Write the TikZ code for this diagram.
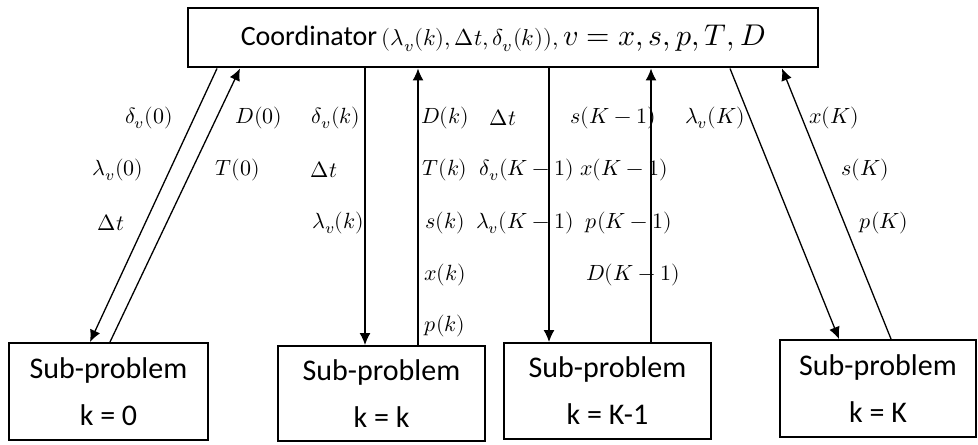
\documentclass[tikz,border=0pt]{standalone}
\usepackage{fontspec}
\usepackage{unicode-math}
\setmainfont{Carlito}
\setmathfont{Latin Modern Math}
\usetikzlibrary{arrows.meta}

\tikzset{
  subbox/.style={draw, line width=1pt, inner sep=0pt, align=center, font=\fontsize{15}{23.5}\selectfont},
  lbl/.style={inner sep=0pt, font=\fontsize{11}{13}\selectfont},
  flow/.style={->, line width=0.65pt},
}

\begin{document}
\begin{tikzpicture}[x=0.5pt, y=-0.5pt, >={Latex[length=6pt,width=5.5pt]}]
				\useasboundingbox (0,0) rectangle (978,444);
				
				% 1. 协调器方框 (顶层)
				\node[draw, line width=1pt, minimum width=315pt, minimum height=29.5pt, inner sep=0pt,
				      font=\fontsize{14}{16}\selectfont] (coord) at (503,38)
				      {Coordinator\,{\fontsize{11.5}{13}\selectfont$(\lambda_v(k),\Delta t,\delta_v(k)),$}\,{\fontsize{15}{17}\selectfont$v = x, s, p, T, D$}};
				
				% 2. 四个子问题方框 (底层)
				\node[subbox, minimum width=99.5pt, minimum height=48.5pt] (sub0) at (108.5,391.5) {Sub-problem\\k = 0};
				\node[subbox, minimum width=103.5pt, minimum height=47.5pt] (subk) at (381.5,393.5) {Sub-problem\\k = k};
				\node[subbox, minimum width=103.5pt, minimum height=48pt] (subK1) at (607.5,391) {Sub-problem\\k = K-1};
				\node[subbox, minimum width=98pt, minimum height=48.5pt] (subK) at (878,388.5) {Sub-problem\\k = K};
				
				% 3. 变量标签 (先画，连线压在上面)
				% k = 0
				\node[lbl] (dv0) at (149,118) {$\delta_v(0)$};
				\node[lbl] (lv0) at (118,170) {$\lambda_v(0)$};
				\node[lbl] (dt0) at (111,223) {$\Delta t$};
				\node[lbl] (D0) at (259,118) {$D(0)$};
				\node[lbl] (T0) at (238,170) {$T(0)$};
				% k = k
				\node[lbl] (dvk) at (336,118) {$\delta_v(k)$};
				\node[lbl] (dtk) at (324,170) {$\Delta t$};
				\node[lbl] (lvk) at (338,223) {$\lambda_v(k)$};
				\node[lbl] (Dk) at (445,118) {$D(k)$};
				\node[lbl] (Tk) at (445,170) {$T(k)$};
				\node[lbl] (sk) at (445,223) {$s(k)$};
				\node[lbl] (xk) at (445,275) {$x(k)$};
				\node[lbl] (pk) at (445,326) {$p(k)$};
				% k = K-1
				\node[lbl] (dtK1) at (503,118) {$\Delta t$};
				\node[lbl] (dvK1) at (527,170) {$\delta_v(K-1)$};
				\node[lbl] (lvK1) at (525,223) {$\lambda_v(K-1)$};
				\node[lbl] (sK1) at (613,118) {$s(K-1)$};
				\node[lbl] (xK1) at (624,170) {$x(K-1)$};
				\node[lbl] (pK1) at (629,223) {$p(K-1)$};
				\node[lbl] (DK1) at (633,275) {$D(K-1)$};
				% k = K
				\node[lbl] (lvK) at (715,118) {$\lambda_v(K)$};
				\node[lbl] (xK) at (834,118) {$x(K)$};
				\node[lbl] (sK) at (865,170) {$s(K)$};
				\node[lbl] (pK) at (884,223) {$p(K)$};
				
				% 4. 上下行连线 (下行: 协调器 -> 子问题; 上行: 子问题 -> 协调器)
				\draw[flow] ([xshift=15pt]coord.south west) -- ([xshift=41pt]sub0.north west);
				\draw[flow] ([xshift=51pt]sub0.north west) -- ([xshift=26.5pt]coord.south west);
				
				\draw[flow] ([xshift=89pt]coord.south west) -- ([xshift=44pt]subk.north west);
				\draw[flow] ([xshift=70.5pt]subk.north west) -- ([xshift=115.5pt]coord.south west);
				
				\draw[flow] ([xshift=181pt]coord.south west) -- ([xshift=23pt]subK1.north west);
				\draw[flow] ([xshift=74pt]subK1.north west) -- ([xshift=232pt]coord.south west);
				
				\draw[flow] ([xshift=271.5pt]coord.south west) -- ([xshift=30pt]subK.north west);
				\draw[flow] ([xshift=56pt]subK.north west) -- ([xshift=297.5pt]coord.south west);
			\end{tikzpicture}
\end{document}
